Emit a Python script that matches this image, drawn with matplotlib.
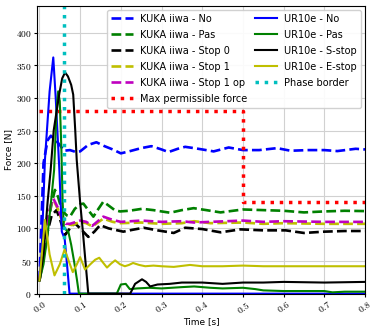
import numpy as np
import matplotlib
matplotlib.use("Agg")
import matplotlib.pyplot as plt

plt.rcParams['mathtext.fontset'] = 'cm'
plt.rcParams['font.family'] = ['DejaVu Sans']

# KUKA iiwa measurements (time [s], force [N])
kuka_no_t = [0, 0.01, 0.02, 0.028, 0.04, 0.05, 0.06, 0.075, 0.09, 0.1, 0.12, 0.14, 0.16, 0.18, 0.2,
             0.22, 0.25, 0.275, 0.3, 0.317, 0.34, 0.358, 0.38, 0.4, 0.428, 0.465, 0.5, 0.54, 0.584,
             0.617, 0.66, 0.7, 0.732, 0.777, 0.8]
kuka_no_f = [20, 200, 235, 242, 235, 228, 219, 220, 217, 218, 228, 232, 226, 221, 215,
             218, 223, 226, 221, 217, 222, 225, 223, 221, 218, 224, 220, 220, 223,
             219, 220, 220, 218.5, 222, 221]

kuka_pas_t = [0, 0.01, 0.02, 0.03, 0.038, 0.046, 0.055, 0.067, 0.075, 0.087, 0.1, 0.108, 0.12, 0.1325,
              0.145, 0.157, 0.17, 0.185, 0.198, 0.22, 0.252, 0.28, 0.3, 0.321, 0.35, 0.379, 0.41,
              0.445, 0.5, 0.55, 0.6, 0.65, 0.7, 0.75, 0.8]
kuka_pas_f = [20, 60, 105, 138, 159, 148, 128, 120, 118, 130, 137, 138, 128, 118,
              130, 141, 135, 128, 126, 127, 130, 128, 126, 124, 128, 131, 128,
              124.5, 129, 128, 127, 124.5, 126, 127, 126.5]

kuka_stop0_t = [0, 0.01, 0.02, 0.03, 0.042, 0.05, 0.063, 0.075, 0.087, 0.1, 0.12, 0.135, 0.149, 0.17,
                0.206, 0.23, 0.256, 0.29, 0.33, 0.358, 0.4, 0.445, 0.494, 0.55, 0.605, 0.65, 0.7,
                0.75, 0.8]
kuka_stop0_f = [20, 55, 95, 120, 128, 115, 90, 100, 108, 100, 87, 95, 105, 100,
                95, 98, 101, 97, 93, 101, 99, 94, 98.5, 97, 97, 93, 95,
                96, 96]

kuka_stop1_t = [0, 0.01, 0.02, 0.03, 0.035, 0.045, 0.055, 0.067, 0.08, 0.1, 0.115, 0.13, 0.157, 0.18,
                0.2, 0.25, 0.3, 0.35, 0.38, 0.42, 0.5, 0.55, 0.6, 0.7, 0.8]
kuka_stop1_f = [20, 65, 115, 140, 143, 130, 112, 107, 105, 110, 108, 103, 115, 110,
                108, 109, 107, 108, 111, 108, 109, 107, 108, 107, 107]

kuka_stop1op_t = [0, 0.01, 0.02, 0.03, 0.034, 0.045, 0.055, 0.065, 0.075, 0.1, 0.115, 0.13, 0.157, 0.18,
                  0.2, 0.25, 0.3, 0.35, 0.38, 0.42, 0.5, 0.55, 0.6, 0.7, 0.8]
kuka_stop1op_f = [20, 65, 115, 140, 146, 132, 115, 107, 107, 112, 110, 104, 118, 113,
                  110, 112, 110, 111, 109, 110, 112, 110, 111, 110, 110]

# permissible force limit
limit_t = [0, 0.5, 0.5, 0.8]
limit_f = [280, 280, 140, 140]

# UR10e measurements
ur_no_t = [0, 0.005, 0.0135, 0.025, 0.034, 0.04, 0.049, 0.055, 0.062, 0.067, 0.074, 0.8]
ur_no_f = [20, 60, 205, 310, 362, 300, 189, 95, 84, 50, 0, 0]

ur_pas_t = [0, 0.01, 0.02, 0.03, 0.036, 0.042, 0.046, 0.05, 0.054, 0.057, 0.06, 0.065, 0.071, 0.078,
            0.085, 0.092, 0.097, 0.19, 0.2, 0.212, 0.222, 0.24, 0.27, 0.3, 0.35, 0.38, 0.42, 0.45,
            0.5, 0.53, 0.55, 0.6, 0.65, 0.7, 0.72, 0.75, 0.8]
ur_pas_f = [20, 45, 90, 150, 189, 280, 310, 295, 220, 140, 102, 98, 95, 75,
            50, 22, 0, 0, 14, 15, 7, 8, 9, 8, 10, 11, 9, 8,
            9, 7, 5, 4, 4, 4, 2, 3, 3]

ur_sstop_t = [0, 0.01, 0.02, 0.0275, 0.035, 0.049, 0.056, 0.063, 0.07, 0.078, 0.083, 0.088, 0.0916,
              0.1, 0.106, 0.113, 0.12, 0.223, 0.235, 0.252, 0.262, 0.272, 0.29, 0.32, 0.35, 0.4,
              0.45, 0.5, 0.55, 0.6, 0.7, 0.8]
ur_sstop_f = [20, 60, 140, 189, 250, 307, 330, 339, 333, 320, 305, 250, 205,
              140, 100, 50, 0, 0, 15, 22, 18, 11, 14, 15, 17, 17,
              15, 17, 17, 18, 17, 18]

ur_estop_t = [0, 0.0135, 0.025, 0.037, 0.05, 0.062, 0.072, 0.082, 0.092, 0.1, 0.112, 0.125, 0.137,
              0.147, 0.157, 0.166, 0.176, 0.186, 0.198, 0.21, 0.22, 0.23, 0.245, 0.26, 0.28, 0.3,
              0.33, 0.37, 0.4, 0.45, 0.5, 0.55, 0.6, 0.7, 0.8]
ur_estop_f = [20, 113, 60, 28, 45, 68, 50, 33, 45, 56, 37, 45, 52,
              55, 47, 40, 46, 51, 45, 42, 44, 47, 44, 42, 43, 42,
              41, 44, 42, 42, 43, 42, 42, 42, 42]

phase_border = 0.06

x_ticks = [0.0, 0.1, 0.2, 0.3, 0.4, 0.5, 0.6, 0.7, 0.8]
y_ticks = [0, 50, 100, 150, 200, 250, 300, 350, 400]

fig = plt.figure(figsize=(3.74, 3.27), dpi=100)
ax = fig.add_axes([0.100, 0.102, 0.876, 0.880])

lw_d = 1.9
ax.plot(kuka_no_t, kuka_no_f, '--', color='b', lw=lw_d, label='KUKA iiwa - No')
ax.plot(kuka_pas_t, kuka_pas_f, '--', color='g', lw=lw_d, label='KUKA iiwa - Pas')
ax.plot(kuka_stop0_t, kuka_stop0_f, '--', color='k', lw=lw_d, label='KUKA iiwa - Stop 0')
ax.plot(kuka_stop1_t, kuka_stop1_f, '--', color='y', lw=lw_d, label='KUKA iiwa - Stop 1')
ax.plot(kuka_stop1op_t, kuka_stop1op_f, '--', color='m', lw=lw_d, label='KUKA iiwa - Stop 1 op')
ax.plot(limit_t, limit_f, ':', color='r', lw=2.5, label='Max permissible force')

lw_s = 1.5
ax.plot(ur_no_t, ur_no_f, '-', color='b', lw=lw_s, label='UR10e - No')
ax.plot(ur_pas_t, ur_pas_f, '-', color='g', lw=lw_s, label='UR10e - Pas')
ax.plot(ur_sstop_t, ur_sstop_f, '-', color='k', lw=lw_s, label='UR10e - S-stop')
ax.plot(ur_estop_t, ur_estop_f, '-', color='y', lw=lw_s, label='UR10e - E-stop')
ax.axvline(phase_border, color='c', ls=':', lw=2.5, label='Phase border')

ax.set_xlim(-0.005, 0.8)
ax.set_ylim(0, 441)
ax.set_xticks(x_ticks)
ax.set_xticklabels(['$%.1f$' % v for v in x_ticks], rotation=35, fontsize=6.8)
ax.set_yticks(y_ticks)
ax.set_yticklabels(['$%d$' % v for v in y_ticks], fontsize=6.8)
ax.tick_params(length=2, pad=2)
ax.grid(True, color='0.82', lw=0.8)
ax.set_axisbelow(True)

ax.set_xlabel('Time [s]', fontsize=6.5, labelpad=1)
ax.set_ylabel('Force [N]', fontsize=6.5, labelpad=2)

ax.legend(ncol=2, loc='upper right', fontsize=7, handlelength=2.2,
          columnspacing=0.8, labelspacing=0.62, borderaxespad=0.4, framealpha=0.9)

fig.savefig('out.png', dpi=100)
